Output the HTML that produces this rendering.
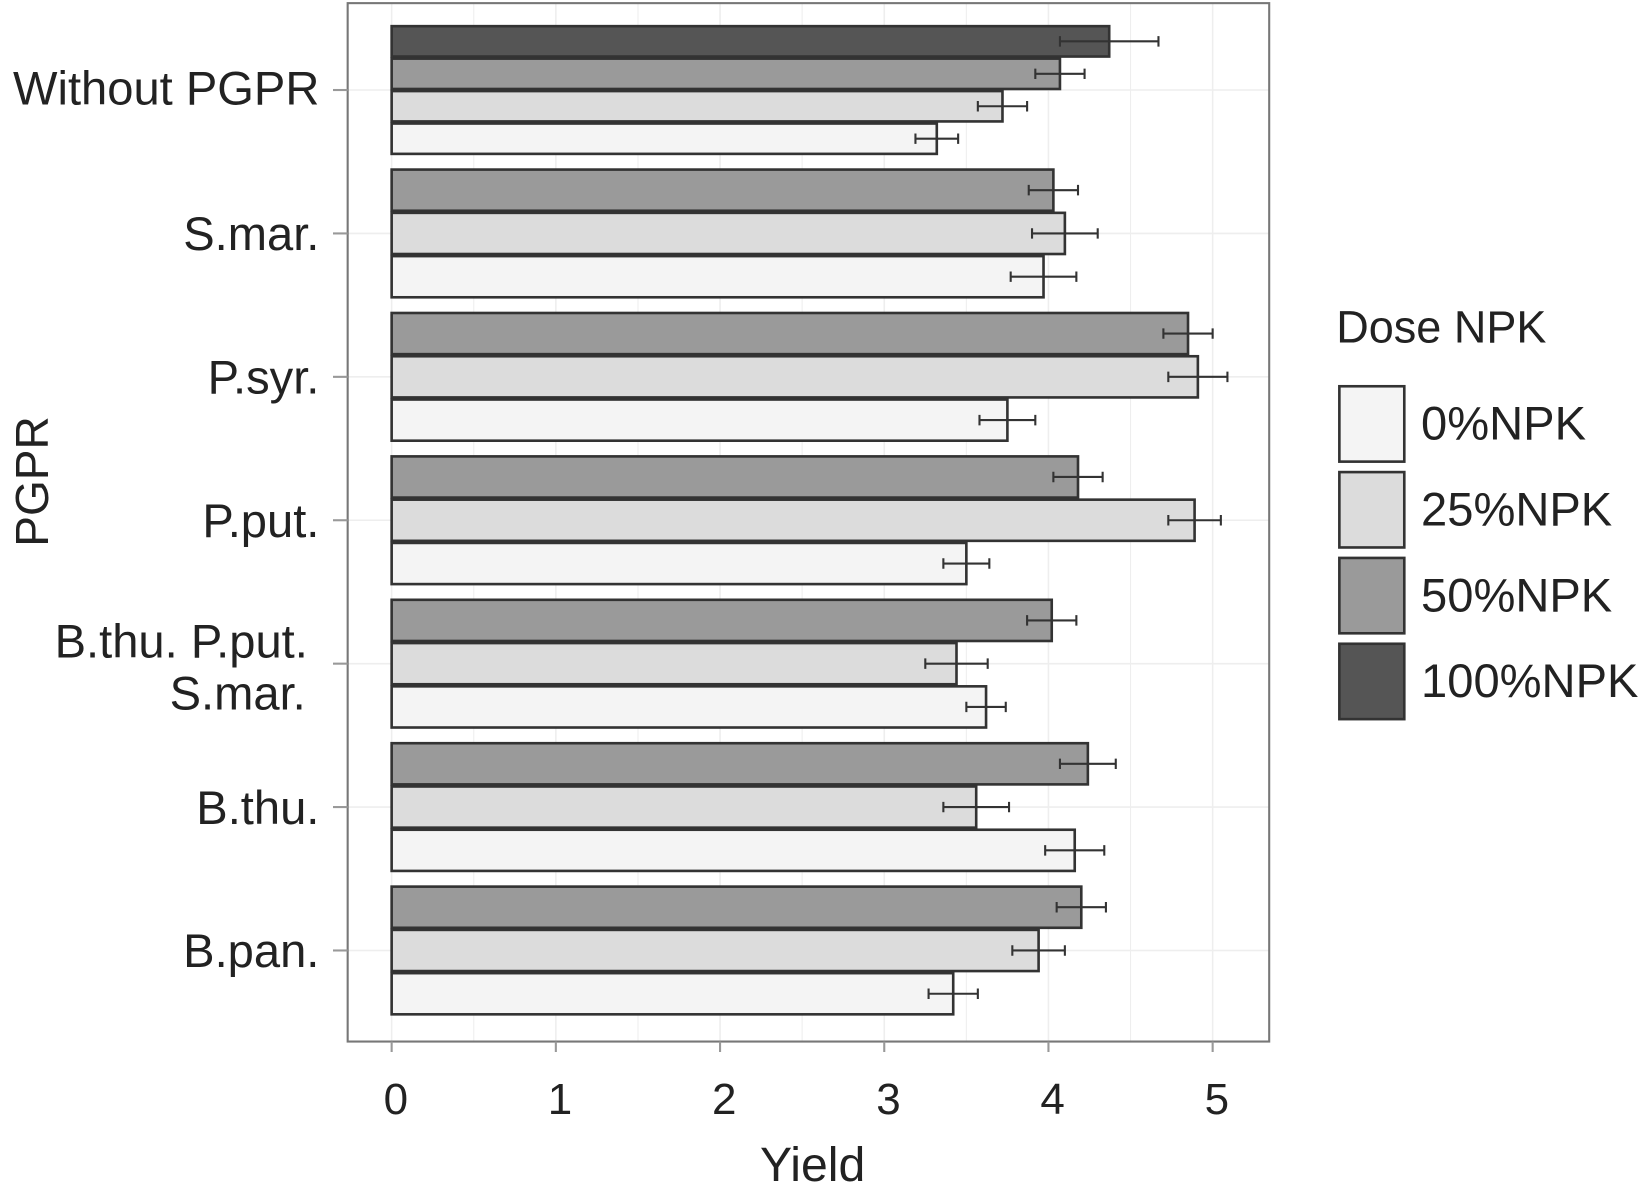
<!DOCTYPE html>
<html><head><meta charset="utf-8"><style>
html,body{margin:0;padding:0;background:#fff}
svg{display:block}
text{font-family:"Liberation Sans",Arial,sans-serif;fill:#222}
</style></head><body>
<svg id="chart" width="1642" height="1186" viewBox="0 0 1568 1133" preserveAspectRatio="none" xmlns="http://www.w3.org/2000/svg">
<g id="grid"></g>
<g id="bars"></g>
<rect x="332" y="3" width="880" height="992" fill="none" stroke="#777" stroke-width="2"/>
<g id="axes"></g>
<text x="776" y="1128" font-size="46" text-anchor="middle">Yield</text>
<text transform="translate(46,460) rotate(-90)" font-size="44" text-anchor="middle">PGPR</text>
<g id="legend"></g>
</svg>
<script>
const categories=["Without PGPR","S.mar.","P.syr.","P.put.","B.thu. P.put. S.mar.","B.thu.","B.pan."];
const doses=["0%NPK","25%NPK","50%NPK","100%NPK"];
const v0=[3.32,3.97,3.75,3.50,3.62,4.16,3.42];
const v25=[3.72,4.10,4.91,4.89,3.44,3.56,3.94];
const v50=[4.07,4.03,4.85,4.18,4.02,4.24,4.20];
const v100=[4.37,null,null,null,null,null,null];
const e0=[0.13,0.2,0.17,0.14,0.12,0.18,0.15];
const e25=[0.15,0.2,0.18,0.16,0.19,0.2,0.16];
const e50=[0.15,0.15,0.15,0.15,0.15,0.17,0.15];
const e100=[0.3,null,null,null,null,null,null];
const xTicks=[0,1,2,3,4,5];
const fills=["#f4f4f4","#dcdcdc","#9a9a9a","#555555"];
const NS="http://www.w3.org/2000/svg";
const x=v=>374+v*156.8;
const yc=i=>86+i*137;
const groupW=124;
function mk(p,t,a){const e=document.createElementNS(NS,t);for(const k in a)e.setAttribute(k,a[k]);p.appendChild(e);return e;}
const grid=document.getElementById('grid'),bars=document.getElementById('bars'),axes=document.getElementById('axes'),leg=document.getElementById('legend');
for(let t=0;t<=5.2;t+=0.5){const g=mk(grid,'line',{x1:x(t),x2:x(t),y1:3,y2:995,stroke:'#eee','stroke-width':t%1?1:1.5});

}
categories.forEach((c,i)=>{
 const g=mk(grid,'line',{x1:332,x2:1212,y1:yc(i),y2:yc(i),stroke:'#eee','stroke-width':1.5});
 
 
 const series=[[v100[i],e100[i],3],[v50[i],e50[i],2],[v25[i],e25[i],1],[v0[i],e0[i],0]].filter(s=>s[0]!=null);
 const n=series.length,h=groupW/n,top=yc(i)-groupW/2;
 series.forEach((s,j)=>{
  const y0=top+j*h;
  const r=mk(bars,'rect',{x:x(0),y:y0+1,width:x(s[0])-x(0),height:h-2,fill:fills[s[2]],stroke:'#333','stroke-width':2.5});
  
  
  const m=y0+h/2;
  const eb=mk(bars,'path',{d:`M${x(s[0]-s[1])} ${m}H${x(s[0]+s[1])}M${x(s[0]-s[1])} ${m-5}V${m+5}M${x(s[0]+s[1])} ${m-5}V${m+5}`,stroke:'#333','stroke-width':2,fill:'none'});
  
  
 });
 const tk=mk(axes,'line',{x1:318,x2:332,y1:yc(i),y2:yc(i),stroke:'#999','stroke-width':2});
 
 
 const parts=c==="B.thu. P.put. S.mar."?["B.thu. P.put.","S.mar."]:[c];
 parts.forEach((p,k)=>{
  const tx=mk(axes,'text',{x:parts.length>1?(k?292:294):305,y:parts.length>1?yc(i)-6+k*50:yc(i+0)+(i===0?14:16),'font-size':45,'text-anchor':'end'});
  tx.textContent=p;
  
  
 });
});
xTicks.forEach(t=>{
 const l=mk(axes,'line',{x1:x(t),x2:x(t),y1:995,y2:1005,stroke:'#999','stroke-width':2});
 
 
 const tx=mk(axes,'text',{x:x(t)+4,y:1064,'font-size':42,'text-anchor':'middle'});
 tx.textContent=t;
 
 
});
const lt=mk(leg,'text',{x:1276,y:327,'font-size':43});
lt.textContent="Dose NPK";


doses.forEach((d,k)=>{
 const y0=369+k*82;
 const r=mk(leg,'rect',{x:1279,y:y0,width:62,height:72,fill:fills[k],stroke:'#333','stroke-width':2.5});
 
 
 const t=mk(leg,'text',{x:1357,y:y0+51,'font-size':45});
 t.textContent=d;
 
 
});
</script>
</body></html>
